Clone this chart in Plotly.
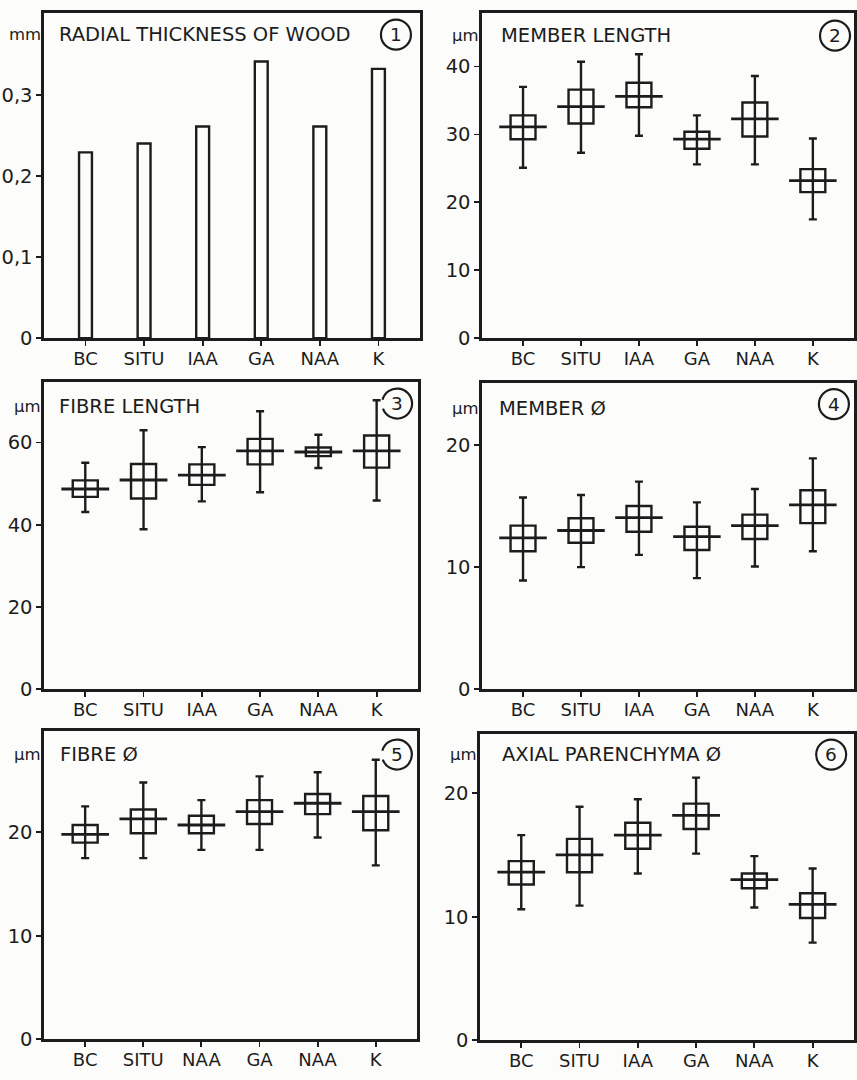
import math
import plotly.graph_objects as go

# ---------------- data ----------------
cats_std = ["BC", "SITU", "IAA", "GA", "NAA", "K"]
cats_p5 = ["BC", "SITU", "NAA", "GA", "NAA", "K"]

# Panel 1: radial thickness of wood (mm)
radial_thickness = [0.229, 0.240, 0.261, 0.341, 0.261, 0.332]

# Panel 2: member length (um)
member_len_mean = [31.1, 34.1, 35.6, 29.3, 32.3, 23.2]
member_len_box_lo = [29.3, 31.6, 34.0, 27.9, 29.7, 21.5]
member_len_box_hi = [32.8, 36.6, 37.6, 30.4, 34.7, 24.9]
member_len_min = [25.1, 27.3, 29.8, 25.6, 25.6, 17.5]
member_len_max = [37.0, 40.7, 41.8, 32.8, 38.6, 29.4]

# Panel 3: fibre length (um)
fibre_len_mean = [48.7, 50.9, 52.1, 58.0, 57.7, 58.0]
fibre_len_box_lo = [46.8, 46.4, 49.7, 54.7, 56.7, 53.9]
fibre_len_box_hi = [50.8, 54.8, 54.7, 60.9, 58.8, 61.7]
fibre_len_min = [43.1, 38.9, 45.7, 47.9, 53.8, 45.9]
fibre_len_max = [55.1, 63.0, 58.9, 67.6, 61.9, 70.3]

# Panel 4: member diameter (um)
member_d_mean = [12.4, 13.0, 14.05, 12.5, 13.4, 15.1]
member_d_box_lo = [11.3, 12.0, 12.9, 11.4, 12.3, 13.6]
member_d_box_hi = [13.4, 14.0, 15.0, 13.3, 14.3, 16.3]
member_d_min = [8.9, 10.0, 11.0, 9.1, 10.05, 11.3]
member_d_max = [15.7, 15.9, 17.0, 15.3, 16.4, 18.9]

# Panel 5: fibre diameter (um)
fibre_d_mean = [19.8, 21.3, 20.7, 22.0, 22.8, 22.0]
fibre_d_box_lo = [19.0, 19.9, 19.9, 20.8, 21.75, 20.2]
fibre_d_box_hi = [20.7, 22.2, 21.6, 23.1, 23.7, 23.5]
fibre_d_min = [17.5, 17.5, 18.3, 18.3, 19.5, 16.8]
fibre_d_max = [22.5, 24.8, 23.1, 25.4, 25.8, 27.0]

# Panel 6: axial parenchyma diameter (um)
axial_d_mean = [13.6, 15.0, 16.6, 18.2, 13.0, 11.0]
axial_d_box_lo = [12.6, 13.6, 15.5, 17.1, 12.3, 9.9]
axial_d_box_hi = [14.5, 16.3, 17.6, 19.15, 13.5, 11.9]
axial_d_min = [10.6, 10.9, 13.5, 15.1, 10.75, 7.9]
axial_d_max = [16.6, 18.9, 19.5, 21.25, 14.9, 13.9]

# ---------------- style ----------------
INK = "#1c1c1c"
PAPER = "#fcfcfa"
FONT = "DejaVu Sans"
W, H = 857, 1080


def px_x(a, b):
    return [a / W, b / W]


def px_y(top, bottom):
    return [1 - bottom / H, 1 - top / H]


panels = [
    dict(xdom=px_x(44, 421), ydom=px_y(13, 342), yrange=[0, 0.401],
         tv=[0, 0.1, 0.2, 0.3], tt=["0", "0,1", "0,2", "0,3"], labels=cats_std,
         title="RADIAL THICKNESS OF WOOD", unit="mm", num="1",
         tpos=(0.034, 0.933), cpos=(0.936, 0.933), arc=False),
    dict(xdom=px_x(483, 856), ydom=px_y(13, 342), yrange=[0, 47.9],
         tv=[0, 10, 20, 30, 40], tt=["0", "10", "20", "30", "40"], labels=cats_std,
         title="MEMBER LENGTH", unit="µm", num="2",
         tpos=(0.046, 0.93), cpos=(0.949, 0.93), arc=False),
    dict(xdom=px_x(44, 419), ydom=px_y(386, 697), yrange=[0, 74.8],
         tv=[0, 20, 40, 60], tt=["0", "20", "40", "60"], labels=cats_std,
         title="FIBRE LENGTH", unit="µm", num="3",
         tpos=(0.035, 0.92), cpos=(0.944, 0.929), arc=True),
    dict(xdom=px_x(483, 856), ydom=px_y(387, 697), yrange=[0, 25.1],
         tv=[0, 10, 20], tt=["0", "10", "20"], labels=cats_std,
         title="MEMBER Ø", unit="µm", num="4",
         tpos=(0.04, 0.916), cpos=(0.946, 0.93), arc=False),
    dict(xdom=px_x(44, 418), ydom=px_y(739, 1051), yrange=[0, 29.8],
         tv=[0, 10, 20], tt=["0", "10", "20"], labels=cats_p5,
         title="FIBRE Ø", unit="µm", num="5",
         tpos=(0.037, 0.923), cpos=(0.946, 0.923), arc=True),
    dict(xdom=px_x(481, 856), ydom=px_y(742, 1052), yrange=[0, 24.8],
         tv=[0, 10, 20], tt=["0", "10", "20"], labels=cats_std,
         title="AXIAL PARENCHYMA Ø", unit="µm", num="6",
         tpos=(0.053, 0.932), cpos=(0.939, 0.932), arc=False),
]

box_data = [
    None,
    (member_len_mean, member_len_box_lo, member_len_box_hi, member_len_min, member_len_max),
    (fibre_len_mean, fibre_len_box_lo, fibre_len_box_hi, fibre_len_min, fibre_len_max),
    (member_d_mean, member_d_box_lo, member_d_box_hi, member_d_min, member_d_max),
    (fibre_d_mean, fibre_d_box_lo, fibre_d_box_hi, fibre_d_min, fibre_d_max),
    (axial_d_mean, axial_d_box_lo, axial_d_box_hi, axial_d_min, axial_d_max),
]

fig = go.Figure()
layout = dict(
    width=W, height=H, margin=dict(l=0, r=0, t=0, b=0),
    paper_bgcolor=PAPER, plot_bgcolor=PAPER, showlegend=False,
    font=dict(family=FONT, color=INK, size=18),
    shapes=[], annotations=[],
)

for i, p in enumerate(panels):
    n = i + 1
    xa = "x" if n == 1 else f"x{n}"
    ya = "y" if n == 1 else f"y{n}"
    pos = list(range(len(p["labels"])))

    if i == 0:
        fig.add_trace(go.Bar(
            x=pos, y=radial_thickness, width=0.22, xaxis=xa, yaxis=ya,
            marker=dict(color=PAPER, line=dict(color=INK, width=2.4)),
            hoverinfo="skip"))
    else:
        mean, blo, bhi, mn, mx = box_data[i]
        fig.add_trace(go.Bar(
            x=pos, y=[h - l for h, l in zip(bhi, blo)], base=blo, width=0.43,
            xaxis=xa, yaxis=ya,
            marker=dict(color="rgba(0,0,0,0)", line=dict(color=INK, width=2.4)),
            hoverinfo="skip"))
        fig.add_trace(go.Scatter(
            x=pos, y=mean, mode="markers", xaxis=xa, yaxis=ya,
            marker=dict(size=1, color="rgba(0,0,0,0)"),
            error_y=dict(type="data", symmetric=False,
                         array=[t - m for t, m in zip(mx, mean)],
                         arrayminus=[m - b for m, b in zip(mean, mn)],
                         width=4, thickness=2.4, color=INK),
            error_x=dict(type="constant", value=0.41, width=0,
                         thickness=2.8, color=INK),
            hoverinfo="skip"))

    axis_common = dict(showline=True, mirror=True, linecolor=INK, linewidth=2.5,
                       ticks="outside", ticklen=5, tickwidth=1.8, tickcolor=INK,
                       showgrid=False, zeroline=False, fixedrange=True)
    layout["xaxis" if n == 1 else f"xaxis{n}"] = dict(
        domain=p["xdom"], anchor=ya, range=[-0.71, 5.71],
        tickvals=pos, ticktext=p["labels"], tickfont=dict(size=18),
        ticklabelstandoff=-2,
        **axis_common)
    layout["yaxis" if n == 1 else f"yaxis{n}"] = dict(
        domain=p["ydom"], anchor=xa, range=p["yrange"],
        tickvals=p["tv"], ticktext=p["tt"], tickfont=dict(size=19.5),
        **axis_common)

    xd = f"{xa} domain"
    yd = f"{ya} domain"
    layout["annotations"].append(dict(
        text=p["title"], xref=xd, yref=yd, x=p["tpos"][0], y=p["tpos"][1],
        xanchor="left", yanchor="middle", showarrow=False,
        font=dict(size=19.5, color=INK)))
    layout["annotations"].append(dict(
        text=p["unit"], xref=xd, yref=yd, x=0, y=p["tpos"][1],
        xanchor="right", yanchor="middle", xshift=-1, showarrow=False,
        font=dict(size=16.5, color=INK)))
    layout["annotations"].append(dict(
        text=p["num"], xref=xd, yref=yd, x=p["cpos"][0], y=p["cpos"][1],
        xanchor="center", yanchor="middle", showarrow=False,
        font=dict(size=18.5, color=INK)))

    r = 15
    if not p["arc"]:
        layout["shapes"].append(dict(
            type="circle", xref=xd, yref=yd, xsizemode="pixel", ysizemode="pixel",
            xanchor=p["cpos"][0], yanchor=p["cpos"][1],
            x0=-r, x1=r, y0=-r, y1=r, line=dict(color=INK, width=2.2)))
    else:
        # open circle (gap on the left where the whisker cap sits)
        a0, a1 = math.radians(-160), math.radians(165)
        nseg = 4
        step = (a1 - a0) / nseg
        k = 4 / 3 * math.tan(step / 4)
        pts = f"M{r*math.cos(a0):.2f},{r*math.sin(a0):.2f}"
        for s in range(nseg):
            t0 = a0 + s * step
            t1 = t0 + step
            c1 = (r * (math.cos(t0) - k * math.sin(t0)), r * (math.sin(t0) + k * math.cos(t0)))
            c2 = (r * (math.cos(t1) + k * math.sin(t1)), r * (math.sin(t1) - k * math.cos(t1)))
            e = (r * math.cos(t1), r * math.sin(t1))
            pts += f" C{c1[0]:.2f},{c1[1]:.2f} {c2[0]:.2f},{c2[1]:.2f} {e[0]:.2f},{e[1]:.2f}"
        layout["shapes"].append(dict(
            type="path", xref=xd, yref=yd, xsizemode="pixel", ysizemode="pixel",
            xanchor=p["cpos"][0], yanchor=p["cpos"][1], path=pts,
            line=dict(color=INK, width=2.2)))

fig.update_layout(**layout)
fig.write_html(
    "out.html",
    config={"displayModeBar": False, "staticPlot": True},
    post_script="document.body.style.margin='0';document.body.style.overflow='hidden';",
)
